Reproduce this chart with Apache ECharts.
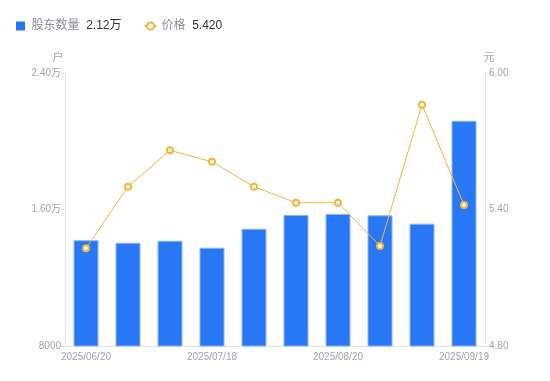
<!DOCTYPE html>
<html><head><meta charset="utf-8">
<script src="https://cdn.jsdelivr.net/npm/echarts@6/dist/echarts.min.js"></script>
<style>html,body{margin:0;padding:0;background:#fff}#c{width:550px;height:381px}</style>
</head><body><div id="c"></div>
<script>
const categories = ['2025/06/20','2025/06/30','2025/07/10','2025/07/18','2025/07/31','2025/08/10','2025/08/20','2025/08/31','2025/09/10','2025/09/19'];
const holders = [14200, 14050, 14170, 13760, 14870, 15680, 15740, 15660, 15170, 21200];
const prices = [5.23, 5.50, 5.66, 5.61, 5.50, 5.43, 5.43, 5.24, 5.86, 5.42];
const holderName = '股东数量';
const priceName = '价格';
const legendValues = {'股东数量': '2.12万', '价格': '5.420'};

const chart = echarts.init(document.getElementById('c'));
const font = '"Liberation Sans", Arial, "Noto Sans CJK SC", sans-serif';
chart.setOption({
  animation: false,
  textStyle: {fontFamily: font},
  legend: {
    left: 11, top: 15, itemWidth: 12, itemHeight: 9, itemGap: 22,
    data: [
      {name: holderName, icon: 'path://M0,0H10V10H0Z', itemStyle: {borderWidth: 0}},
      {name: priceName}
    ],
    formatter: n => '{n|' + n + '}  {v|' + legendValues[n] + '}',
    textStyle: {rich: {n: {color: '#8a8d99', fontSize: 12, fontFamily: font}, v: {color: '#333', fontSize: 12, fontFamily: font}}}
  },
  grid: {left: 65, right: 65, top: 73, bottom: 35},
  xAxis: {
    type: 'category', data: categories,
    axisLine: {lineStyle: {color: '#e3e3e8'}},
    axisTick: {show: false},
    axisLabel: {color: '#a0a3b1', fontSize: 10, interval: 2, margin: 6, fontFamily: font}
  },
  yAxis: [{
    type: 'value', min: 8000, max: 24000, interval: 8000, name: '户',
    nameTextStyle: {color: '#a0a3b1', fontSize: 11, padding: [0, 14, 0, 0]},
    nameGap: 10,
    axisLine: {show: true, lineStyle: {color: '#e3e3e8'}},
    axisTick: {show: true, length: 4, lineStyle: {color: '#e3e3e8'}},
    splitLine: {show: false},
    axisLabel: {color: '#a0a3b1', fontSize: 10, margin: 4, fontFamily: font,
      formatter: v => v >= 10000 ? (v / 10000).toFixed(2) + '万' : String(v)}
  }, {
    type: 'value', min: 4.8, max: 6.0, interval: 0.6, name: '元',
    nameTextStyle: {color: '#a0a3b1', fontSize: 11, padding: [0, 0, 0, 8]},
    nameGap: 10,
    axisLine: {show: true, lineStyle: {color: '#e3e3e8'}},
    axisTick: {show: true, length: 4, lineStyle: {color: '#e3e3e8'}},
    splitLine: {show: false},
    axisLabel: {color: '#a0a3b1', fontSize: 10, margin: 4, fontFamily: font, formatter: v => v.toFixed(2)}
  }],
  series: [{
    name: holderName, type: 'bar', data: holders, barWidth: 25, yAxisIndex: 0,
    itemStyle: {color: '#2878f5', borderColor: '#8cb4f7', borderWidth: 1}
  }, {
    name: priceName, type: 'line', data: prices, yAxisIndex: 1,
    symbol: 'emptyCircle', symbolSize: 6,
    lineStyle: {color: '#f7b33b', width: 1},
    itemStyle: {color: '#f7b33b', borderWidth: 2}
  }]
});
</script></body></html>
